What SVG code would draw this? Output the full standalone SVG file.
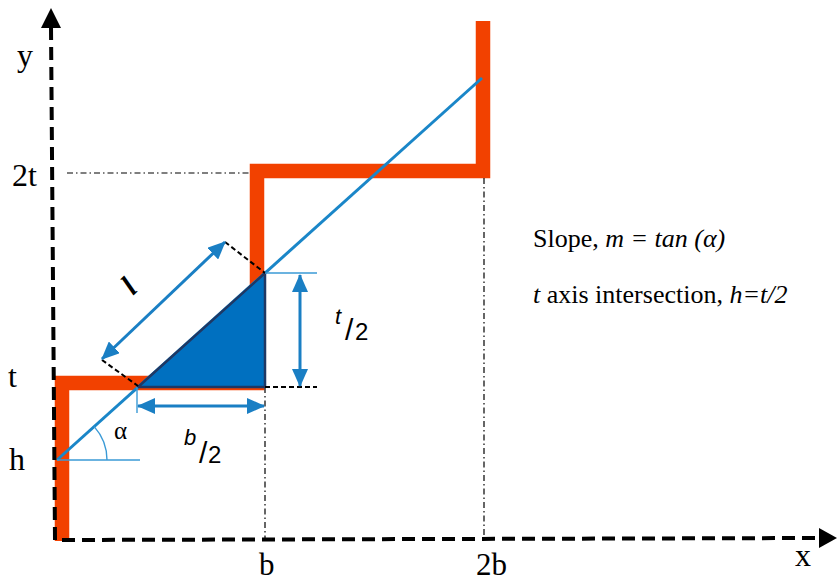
<svg xmlns="http://www.w3.org/2000/svg" width="838" height="582" viewBox="0 0 838 582">
<defs>
<style>
.lbl{font-family:"Liberation Serif","Times New Roman",serif;fill:#000}
.frac{font-family:"Liberation Sans",Arial,sans-serif;fill:#000}
.axis{fill:none;stroke:#000;stroke-width:4;stroke-dasharray:13 7}
.dd{fill:none;stroke:#000;stroke-width:1.2;stroke-dasharray:6 3 1.5 3}
.dash{fill:none;stroke:#000;stroke-width:2;stroke-dasharray:5 3}
.dim{fill:none;stroke:#1a7fc4;stroke-width:3;marker-start:url(#ah);marker-end:url(#ah)}
.thin{fill:none;stroke:#3a9ad6;stroke-width:1.4}
</style>
<marker id="ah" viewBox="0 0 18 16" refX="17" refY="8" markerWidth="18" markerHeight="16" markerUnits="userSpaceOnUse" orient="auto-start-reverse">
<path d="M0,0 L18,8 L0,16 z" fill="#1a7fc4"/>
</marker>
</defs>
<rect width="838" height="582" fill="#fff"/>

<g id="profile">
<path d="M62,541 V383 H257 V171 H483 V21" fill="none" stroke="#f24100" stroke-width="14.5" stroke-linejoin="miter"/>
</g>

<g id="guides">
<path class="dd" d="M67,173 H250"/>
<path class="dd" d="M265,387 V540"/>
<path class="dd" d="M484,178 V540"/>
</g>

<g id="slope-line">
<line x1="57" y1="460" x2="482" y2="78" stroke="#1a86c8" stroke-width="3"/>
</g>

<g id="triangle">
<path d="M138,387 L265,273 L265,387 Z" fill="#0070c0" stroke="#1f3864" stroke-width="2.5" stroke-linejoin="round"/>
</g>

<g id="axes">
<path class="axis" d="M55,540 L51,26"/>
<path d="M51,8 L41,28 L61,28 Z" fill="#000"/>
<path class="axis" d="M62,540 L820,538"/>
<path d="M837,538 L819,528 L819,548 Z" fill="#000"/>
</g>

<g id="connectors">
<path class="dash" d="M102,360 L138,386"/>
<path class="dash" d="M225,242 L265,273"/>
<path class="dash" d="M265,387 H317"/>
<path class="thin" d="M265,273 H317"/>
<path class="thin" d="M137,387 V413"/>
<path class="thin" d="M57,460 H140"/>
<path class="thin" d="M107,460 A50,50 0 0,0 94.2,426.6"/>
<line class="dim" x1="102" y1="359" x2="225" y2="242"/>
<line class="dim" x1="300" y1="275" x2="300" y2="386"/>
<line class="dim" x1="138" y1="406" x2="264" y2="406"/>
</g>

<g id="labels">
<text class="lbl" x="17" y="66" font-size="32">y</text>
<text class="lbl" x="12" y="186" font-size="32">2t</text>
<text class="lbl" x="8" y="387" font-size="32">t</text>
<text class="lbl" x="9" y="470" font-size="32">h</text>
<text class="lbl" x="259" y="575" font-size="31">b</text>
<text class="lbl" x="476" y="575" font-size="31">2b</text>
<text class="lbl" x="795" y="566" font-size="32">x</text>
<text class="lbl" x="114" y="439" font-size="25">α</text>
<text class="lbl" x="133" y="296" font-size="30" font-style="italic" font-weight="bold" transform="rotate(-45 133 296)">l</text>
<text class="frac" x="335" y="324" font-size="22" font-style="italic">t</text>
<text class="frac" x="345" y="340" font-size="30">/</text>
<text class="frac" x="355" y="340" font-size="24">2</text>
<text class="frac" x="184" y="445" font-size="22" font-style="italic">b</text>
<text class="frac" x="199" y="463" font-size="30">/</text>
<text class="frac" x="208" y="463" font-size="24">2</text>
<text class="lbl" x="533" y="247" font-size="26">Slope, <tspan font-style="italic">m = tan (α)</tspan></text>
<text class="lbl" x="533" y="303" font-size="26"><tspan font-style="italic">t</tspan> axis intersection, <tspan font-style="italic">h=t/2</tspan></text>
</g>
</svg>
